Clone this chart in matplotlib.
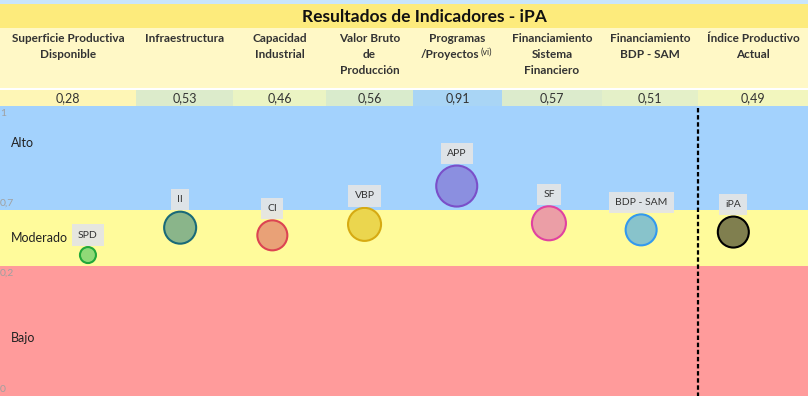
import numpy as np
import matplotlib
matplotlib.use("Agg")
import matplotlib.pyplot as plt
from matplotlib.patches import Rectangle

plt.rcParams['font.family'] = ['Lato', 'DejaVu Sans']

# ---------------- data ----------------
title = "Resultados de Indicadores - iPA"
headers = ["Superficie Productiva\nDisponible", "Infraestructura", "Capacidad\nIndustrial",
           "Valor Bruto\nde\nProducción", "Programas\n/Proyectos", "Financiamiento\nSistema\nFinanciero",
           "Financiamiento\nBDP - SAM", "Índice Productivo\nActual"]
codes = ["SPD", "II", "CI", "VBP", "APP", "SF", "BDP - SAM", "iPA"]
values = [0.28, 0.53, 0.46, 0.56, 0.91, 0.57, 0.51, 0.49]
value_labels = ["0,28", "0,53", "0,46", "0,56", "0,91", "0,57", "0,51", "0,49"]
bands = ["Bajo", "Moderado", "Alto"]
band_limits = [0, 0.2, 0.7, 1]
band_tick_labels = ["0", "0,2", "0,7", "1"]

# ---------------- styles ----------------
W, H = 808, 396
col_edges = [0, 136, 233, 326, 413, 502, 602, 698, 808]
cell_colors = ["#fef6b6", "#dcebcb", "#ebf4c3", "#d9ebcc", "#a9d5f5", "#dcebcc", "#e4f0c8", "#f2f6be"]
face_colors = ["#8fd977", "#8ab58a", "#e9a177", "#ebd64e", "#8b8fe0", "#eb9ea6", "#88c3cb", "#807f4f"]
edge_colors = ["#22a83a", "#1a6a78", "#dc4452", "#d6aa12", "#7a4fc9", "#e042a0", "#3399ee", "#000000"]
radius_px = [8, 16, 15, 16.5, 20.5, 17, 15.5, 15.5]
band_colors = ["#ff9b9b", "#fffb9b", "#a3d2fd"]
band_label_pos = [0.45, 0.5, 0.64]  # fraction within band
band_px = [0, 130, 186, 290]  # on-screen heights of band limits (non-linear background scale)

fig = plt.figure(figsize=(W / 100, H / 100), dpi=100)
fig.patch.set_facecolor("white")

# ---------------- chart area ----------------
chart_top = 106
ax_bg = fig.add_axes([0, 0, 1, (H - chart_top) / H])
fwd = lambda y: np.interp(y, band_limits, band_px)
inv = lambda y: np.interp(y, band_px, band_limits)
ax_bg.set_yscale('function', functions=(fwd, inv))
ax_bg.set_ylim(0, 1)
ax_bg.axis('off')
ytr = ax_bg.get_yaxis_transform()
for i, name in enumerate(bands):
    lo, hi = band_limits[i], band_limits[i + 1]
    ax_bg.axhspan(lo, hi, color=band_colors[i], lw=0, zorder=0)
    ypos = inv(fwd(lo) + band_label_pos[i] * (fwd(hi) - fwd(lo)))
    ax_bg.text(0.014, ypos, name, fontsize=9, color="#222222", va='center', ha='left',
               transform=ytr)
tick_va = ['bottom', 'top', 'bottom', 'top']
tick_dy = [1.5, -2, 2, -2.5]
for lim, lab, va, dy in zip(band_limits, band_tick_labels, tick_va, tick_dy):
    ax_bg.annotate(lab, (0, lim), xycoords=ytr, xytext=(0, dy), textcoords='offset points',
                   fontsize=7.5, color="#a0a0a0", va=va, ha='left')

ax = ax_bg.twinx()
ax.axis('off')
xs = np.arange(len(values))
ax.set_xlim(-0.954, 7.81)
ax.set_ylim(-1.007, 1.641)
sizes = [(2 * r * 0.72) ** 2 for r in radius_px]
ax.scatter(xs, values, s=sizes, c=face_colors, edgecolors=edge_colors, linewidths=1.5, zorder=3)
for x, v, code, r in zip(xs, values, codes, radius_px):
    ax.annotate(code, (x, v), xytext=(0, (r + 12) * 0.72), textcoords='offset points',
                ha='center', va='center', fontsize=7.5, color="#333333",
                bbox=dict(boxstyle='square,pad=0.6', fc='#e4e5e6', ec='none', alpha=0.92), zorder=4)

# ---------------- header / table ----------------
hx = fig.add_axes([0, 0, 1, 1], zorder=5)
hx.set_xlim(0, W)
hx.set_ylim(H, 0)
hx.axis('off')
hx.patch.set_alpha(0)
hx.add_patch(Rectangle((0, 0), W, 4, color="#c9e5fb", lw=0))
hx.add_patch(Rectangle((0, 4), W, 24, color="#fdeb7c", lw=0))
hx.add_patch(Rectangle((0, 28), W, 60, color="#fff8c6", lw=0))
hx.add_patch(Rectangle((0, 88), W, 1.5, color="white", lw=0))
hx.text(424.5, 16.5, title, fontsize=12.5, fontweight='bold', ha='center', va='center', color="#111111")
head_color = "#333333"
for i in range(len(values)):
    x0, x1 = col_edges[i], col_edges[i + 1]
    cx = (x0 + x1) / 2
    hx.add_patch(Rectangle((x0, 89.5), x1 - x0, 16.5, color=cell_colors[i], lw=0))
    hx.text(cx, 98, value_labels[i], fontsize=9, ha='center', va='center', color="#333333")
    for k, line in enumerate(headers[i].split("\n")):
        y = 38 + 16.5 * k
        if codes[i] == "APP" and k == 1:
            hx.text(cx + 22, y, line, fontsize=8.5, fontweight='bold', ha='right', va='center', color=head_color)
            hx.text(cx + 23, y - 2, "(vi)", fontsize=6.5, ha='left', va='center', color=head_color)
        else:
            hx.text(cx, y, line, fontsize=8.5, fontweight='bold', ha='center', va='center', color=head_color)
# dashed separator between sub-indicators and composite index
hx.plot([col_edges[-2], col_edges[-2]], [108, H], color='black', lw=1.6, ls=(0, (2, 1.2)))

fig.savefig("out.png", dpi=100)
